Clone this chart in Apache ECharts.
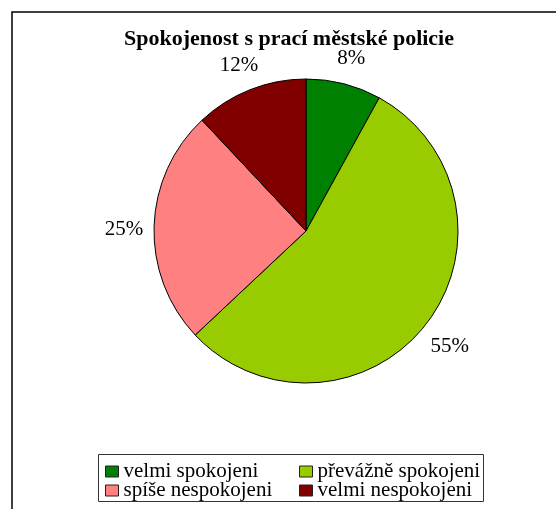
<!DOCTYPE html>
<html>
<head>
<meta charset="utf-8">
<script src="https://cdn.jsdelivr.net/npm/echarts@6/dist/echarts.min.js"></script>
<style>
  html, body { margin: 0; padding: 0; background: #fff; }
  #chart { width: 556px; height: 509px; }
</style>
</head>
<body>
<div id="chart"></div>
<script>
// Spokojenost s prací městské policie
const categories = ["velmi spokojeni", "převážně spokojeni", "spíše nespokojeni", "velmi nespokojeni"];
const shares = [8, 55, 25, 12];
const colors = ["#008000", "#99cc00", "#ff8080", "#800000"];

const font = "'Liberation Serif', 'DejaVu Serif', serif";

let chart = echarts.init(document.getElementById("chart"));

let pieData = categories.map((name, i) => ({
  name,
  value: shares[i],
  itemStyle: { color: colors[i] }
}));

let legendStyle = {
  orient: "vertical",
  top: 461,
  height: 46,
  padding: 0,
  itemWidth: 13,
  itemHeight: 11,
  itemGap: -2,
  icon: "rect",
  itemStyle: { borderColor: "#222", borderWidth: 1 },
  textStyle: { fontFamily: font, fontSize: 21, lineHeight: 20, color: "#000" }
};

chart.setOption({
  animation: false,
  title: {
    text: "Spokojenost s prací městské policie",
    left: 284,
    top: 23,
    textAlign: "center",
    textStyle: { fontFamily: font, fontWeight: "bold", fontSize: 22, color: "#000" }
  },
  legend: [
    Object.assign({ data: [categories[0], categories[2]], left: 105 }, legendStyle),
    Object.assign({ data: [categories[1], categories[3]], left: 299 }, legendStyle)
  ],
  graphic: [
    {
      type: "rect",
      shape: { x: 12, y: 12, width: 700, height: 700 },
      style: { fill: "none", stroke: "#000", lineWidth: 1.5 },
      silent: true
    },
    {
      type: "rect",
      shape: { x: 98.5, y: 454.5, width: 385, height: 47 },
      style: { fill: "none", stroke: "#333", lineWidth: 1 },
      silent: true
    }
  ],
  series: [
    {
      type: "pie",
      center: [306, 231],
      radius: 152,
      startAngle: 90,
      clockwise: true,
      label: { show: false },
      labelLine: { show: false },
      itemStyle: { borderColor: "#000", borderWidth: 1 },
      emphasis: { disabled: true },
      data: pieData
    },
    {
      // transparent ring used only to place the percentage labels
      type: "pie",
      center: [306, 231],
      radius: [170, 188],
      startAngle: 90,
      clockwise: true,
      silent: true,
      label: {
        show: true,
        position: "inside",
        formatter: (p) => p.value + "%",
        fontFamily: font,
        fontSize: 21,
        color: "#000",
        offset: [0, 4]
      },
      labelLine: { show: false },
      emphasis: { disabled: true },
      data: pieData.map((d) => ({ name: d.name, value: d.value, itemStyle: { color: "transparent" } }))
    }
  ]
});
</script>
</body>
</html>
